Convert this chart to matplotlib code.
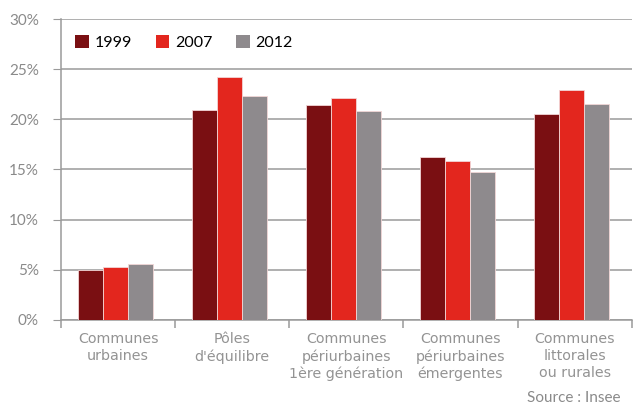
import numpy as np
import matplotlib.pyplot as plt
from matplotlib.patches import Patch

plt.rcParams['font.family'] = ['Lato', 'DejaVu Sans']

categories = ["Communes\nurbaines", "Pôles\nd'équilibre",
              "Communes\npériurbaines\n1ère génération",
              "Communes\npériurbaines\némergentes",
              "Communes\nlittorales\nou rurales"]
years = ["1999", "2007", "2012"]
v1999 = [5.0, 20.9, 21.4, 16.2, 20.5]
v2007 = [5.3, 24.2, 22.1, 15.8, 22.9]
v2012 = [5.6, 22.3, 20.8, 14.75, 21.5]
colors = ["#7a0f12", "#e3261e", "#8e8a8d"]
grey = "#8a8a8a"

fig = plt.figure(figsize=(6.33, 4.05), dpi=100)
ax = fig.add_axes([0.0964, 0.21, 0.9016, 0.743])

x = np.arange(len(categories))
w = 0.22
for i, (vals, c) in enumerate(zip([v1999, v2007, v2012], colors)):
    ax.bar(x + (i - 1) * w - 0.025, vals, width=w, color=c,
           edgecolor="#f2d6d6", linewidth=0.6, zorder=3)

ax.set_xlim(-0.5, len(categories) - 0.5)
ax.set_ylim(0, 30)
ax.set_yticks(range(0, 31, 5))
ax.set_yticklabels([f"{t}%" for t in range(0, 31, 5)], color=grey, fontsize=11)
ax.yaxis.grid(True, color="#9a9a9a", linewidth=1.1, zorder=0)
ax.tick_params(axis="y", length=6, color="#9a9a9a", pad=10)

# category labels centred, tick marks on the boundaries
ax.set_xticks(x)
ax.set_xticklabels(categories, color="#939393", fontsize=10.3, linespacing=1.25,
                   family="DejaVu Sans")
ax.tick_params(axis="x", length=0, pad=9)
ax.set_xticks(np.arange(-0.5, len(categories)), minor=True)
ax.tick_params(axis="x", which="minor", length=6, color="#9a9a9a", width=1.1)

for s in ["top", "right"]:
    ax.spines[s].set_visible(False)
for s in ["left", "bottom"]:
    ax.spines[s].set_color("#9a9a9a")
    ax.spines[s].set_linewidth(1.1)

handles = [Patch(facecolor=c, edgecolor="none") for c in colors]
ax.legend(handles, years, loc="upper left", ncol=3, frameon=False,
          fontsize=11.5, handlelength=0.85, handleheight=0.85, columnspacing=1.5,
          handletextpad=0.35, bbox_to_anchor=(0.0, 0.995))

fig.text(0.98, 0.018, "Source : Insee", ha="right", va="center",
         color=grey, fontsize=11)

fig.savefig("out.png", dpi=100)
